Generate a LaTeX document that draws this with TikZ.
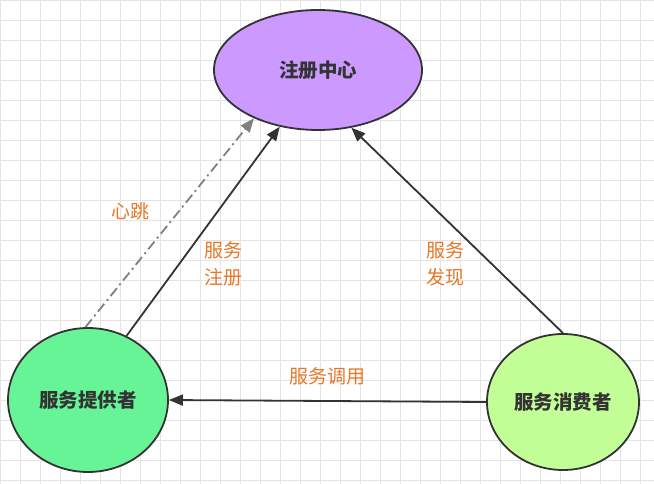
\documentclass[tikz,border=0pt]{standalone}
\usepackage{fontspec}
\setmainfont{Noto Sans CJK SC}
\usetikzlibrary{arrows.meta}
\definecolor{regfill}{RGB}{204,153,255}
\definecolor{provfill}{RGB}{102,244,150}
\definecolor{consfill}{RGB}{194,255,150}
\definecolor{lbl}{RGB}{228,120,40}
\definecolor{gridc}{RGB}{228,228,228}
\definecolor{edge}{RGB}{51,51,51}
\tikzset{
  ent/.style={ellipse, draw=edge, line width=1.8pt, font=\fontsize{19.5}{22}\selectfont\bfseries, text=black!80},
  conn/.style={draw=edge, line width=1.8pt, -{Triangle[length=14pt,width=11pt]}},
  hb/.style={draw=gray, line width=1.8pt, dash pattern=on 10pt off 4pt on 2pt off 4pt, -{Triangle[length=14pt,width=11pt]}},
  lab/.style={text=lbl, font=\fontsize{19}{27}\selectfont, align=center}
}
\usetikzlibrary{shapes.geometric}
\begin{document}
\begin{tikzpicture}[x=1pt,y=-1pt]
\useasboundingbox (0,0) rectangle (654,484);
\fill[white] (0,0) rectangle (654,484);
\draw[gridc, line width=0.7pt] (0,0) grid[step=20pt] (654,484);
\node[ent, fill=regfill, minimum width=208pt, minimum height=120pt] (reg) at (318,70) {注册中心};
\node[ent, fill=provfill, minimum width=160pt, minimum height=144pt] (prov) at (88,400) {服务提供者};
\node[ent, fill=consfill, minimum width=152pt, minimum height=136pt] (cons) at (563,402) {服务消费者};
\draw[conn] (cons.west) -- (prov.east);
\draw[conn] (prov.59) -- (reg.236);
\draw[hb] (prov.92) -- (reg.217);
\draw[conn] (cons.90) -- (reg.300);
\node[lab] (l1) at (130,211) {心跳};
\node[lab] (l2) at (223,264) {服务\\注册};
\node[lab] (l3) at (445,264) {服务\\发现};
\node[lab] (l4) at (327,376) {服务调用};
\end{tikzpicture}
\end{document}
